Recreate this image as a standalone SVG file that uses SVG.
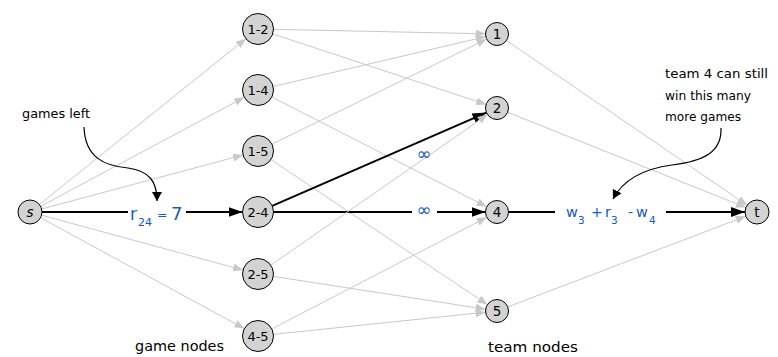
<svg xmlns="http://www.w3.org/2000/svg" width="778" height="357" viewBox="0 0 778 357">
<style>
  .bg { fill: #ffffff; }
  .node { fill: #d3d3d3; stroke: #000000; stroke-width: 1; }
  .ntext { font-family: "DejaVu Sans", sans-serif; font-size: 13px; fill: #000000; text-anchor: middle; }
  .ttext { font-family: "DejaVu Sans", sans-serif; font-size: 13.5px; fill: #000000; text-anchor: middle; }
  .gray { stroke: #c8c8c8; stroke-width: 1; fill: none; marker-end: url(#ag); }
  .black { stroke: #000000; stroke-width: 2; fill: none; }
  .blackarr { marker-end: url(#ab); }
  .note { font-family: "DejaVu Sans", sans-serif; font-size: 13px; fill: #000000; }
  .big { font-family: "DejaVu Sans", sans-serif; font-size: 14.5px; fill: #000000; }
  .lbl { font-family: "DejaVu Sans", sans-serif; fill: #1a58c0; }
  .curve { stroke: #000000; stroke-width: 1.2; fill: none; marker-end: url(#ac); }
</style>
<defs>
  <marker id="ag" markerUnits="userSpaceOnUse" markerWidth="11" markerHeight="9" refX="10" refY="4" orient="auto">
    <path d="M0,0 L10,4 L0,8 Z" fill="#c8c8c8"/>
  </marker>
  <marker id="ab" markerUnits="userSpaceOnUse" markerWidth="15" markerHeight="11" refX="14" refY="5" orient="auto">
    <path d="M0,0 L14,5 L0,10 Z" fill="#000000"/>
  </marker>
  <marker id="ac" markerUnits="userSpaceOnUse" markerWidth="11" markerHeight="11" refX="9" refY="5" orient="auto">
    <path d="M0,0 L9,5 L0,10 Z" fill="#000000"/>
  </marker>
</defs>
<rect class="bg" x="0" y="0" width="778" height="357"/>

<g id="connectors">
  <!-- s to game nodes -->
  <line class="gray" x1="39.4" y1="204.5" x2="245.9" y2="38.7"/>
  <line class="gray" x1="40.6" y1="206.3" x2="244.3" y2="97.3"/>
  <line class="gray" x1="41.6" y1="209" x2="243" y2="155"/>
  <line class="black" x1="42" y1="212" x2="128" y2="212"/>
  <line class="black blackarr" x1="186" y1="212" x2="242.5" y2="212"/>
  <line class="gray" x1="41.6" y1="215.2" x2="243.1" y2="270.1"/>
  <line class="gray" x1="40.5" y1="217.7" x2="244.4" y2="328.6"/>
  <!-- game nodes to team nodes -->
  <line class="gray" x1="273.5" y1="29.3" x2="485.5" y2="33.8"/>
  <line class="gray" x1="272.7" y1="33.9" x2="486.1" y2="104.4"/>
  <line class="gray" x1="273.1" y1="86.5" x2="485.8" y2="36.6"/>
  <line class="gray" x1="271.8" y1="97" x2="486.8" y2="206.8"/>
  <line class="gray" x1="271.9" y1="144.2" x2="486.7" y2="39.1"/>
  <line class="gray" x1="270.9" y1="159.6" x2="487.4" y2="304.6"/>
  <line class="black blackarr" x1="272.2" y1="205.8" x2="486.5" y2="112.6"/>
  <line class="black" x1="273.5" y1="212" x2="412" y2="212"/>
  <line class="black blackarr" x1="437" y1="212" x2="485.5" y2="212"/>
  <line class="gray" x1="270.7" y1="265.2" x2="487.6" y2="114.6"/>
  <line class="gray" x1="273.3" y1="276.4" x2="485.6" y2="309.2"/>
  <line class="gray" x1="271.8" y1="328.9" x2="486.8" y2="217.3"/>
  <line class="gray" x1="273.4" y1="334.4" x2="485.6" y2="312.2"/>
  <!-- team nodes to t -->
  <line class="gray" x1="506.5" y1="40.5" x2="747.1" y2="205.2"/>
  <line class="gray" x1="507.7" y1="112.3" x2="745.9" y2="207.5"/>
  <line class="black" x1="508.5" y1="212" x2="555" y2="212"/>
  <line class="black blackarr" x1="666" y1="212" x2="745" y2="212"/>
  <line class="gray" x1="507.7" y1="306.9" x2="745.8" y2="216.3"/>
  <!-- callout curves -->
  <path class="curve" d="M84,127 C85,158 105,166 128,168 C150,171 157,182 157,201"/>
  <path class="curve" d="M721,128 C722,152 704,161 672,165 C642,169 623,180 613,199"/>
</g>

<g id="edge-labels">
  <text class="lbl" x="130" y="220" font-size="17">r</text>
  <text class="lbl" x="138" y="226" font-size="11">24</text>
  <text class="lbl" x="157" y="219" font-size="12.5">=</text>
  <text class="lbl" x="171" y="220" font-size="18">7</text>
  <text class="lbl" x="424" y="160" font-size="18" text-anchor="middle">∞</text>
  <text class="lbl" x="424" y="216" font-size="18" text-anchor="middle">∞</text>
  <text class="lbl" x="566" y="217" font-size="14.5">w</text>
  <text class="lbl" x="578" y="224" font-size="10.5">3</text>
  <text class="lbl" x="591" y="217" font-size="14">+</text>
  <text class="lbl" x="605" y="217" font-size="14.5">r</text>
  <text class="lbl" x="611" y="224" font-size="10.5">3</text>
  <text class="lbl" x="628" y="217" font-size="14">-</text>
  <text class="lbl" x="636" y="217" font-size="14.5">w</text>
  <text class="lbl" x="649" y="224" font-size="10.5">4</text>
</g>

<g id="node-s"><circle class="node" cx="30" cy="212" r="12"/><text class="ttext" x="30" y="216.5" font-style="italic">s</text></g>
<g id="node-t"><circle class="node" cx="757" cy="212" r="12"/><text class="ttext" x="757" y="216.5">t</text></g>

<g id="node-1-2"><circle class="node" cx="258" cy="29" r="15.5"/><text class="ntext" x="258" y="33.5">1-2</text></g>
<g id="node-1-4"><circle class="node" cx="258" cy="90" r="15.5"/><text class="ntext" x="258" y="94.5">1-4</text></g>
<g id="node-1-5"><circle class="node" cx="258" cy="151" r="15.5"/><text class="ntext" x="258" y="155.5">1-5</text></g>
<g id="node-2-4"><circle class="node" cx="258" cy="212" r="15.5"/><text class="ntext" x="258" y="216.5">2-4</text></g>
<g id="node-2-5"><circle class="node" cx="258" cy="274" r="15.5"/><text class="ntext" x="258" y="278.5">2-5</text></g>
<g id="node-4-5"><circle class="node" cx="258" cy="336" r="15.5"/><text class="ntext" x="258" y="340.5">4-5</text></g>

<g id="node-1"><circle class="node" cx="497" cy="34" r="11.5"/><text class="ttext" x="497" y="39">1</text></g>
<g id="node-2"><circle class="node" cx="497" cy="108" r="11.5"/><text class="ttext" x="497" y="113">2</text></g>
<g id="node-4"><circle class="node" cx="497" cy="212" r="11.5"/><text class="ttext" x="497" y="217">4</text></g>
<g id="node-5"><circle class="node" cx="497" cy="311" r="11.5"/><text class="ttext" x="497" y="316">5</text></g>

<g id="annotations">
  <text class="note" x="22" y="118" textLength="68" lengthAdjust="spacingAndGlyphs">games left</text>
  <text class="note" x="665" y="78" textLength="103" lengthAdjust="spacingAndGlyphs">team 4 can still</text>
  <text class="note" x="665" y="100" textLength="86" lengthAdjust="spacingAndGlyphs">win this many</text>
  <text class="note" x="665" y="121" textLength="76" lengthAdjust="spacingAndGlyphs">more games</text>
  <text class="big" x="135" y="351" textLength="89" lengthAdjust="spacingAndGlyphs">game nodes</text>
  <text class="big" x="488" y="352" textLength="90" lengthAdjust="spacingAndGlyphs">team nodes</text>
</g>
</svg>
